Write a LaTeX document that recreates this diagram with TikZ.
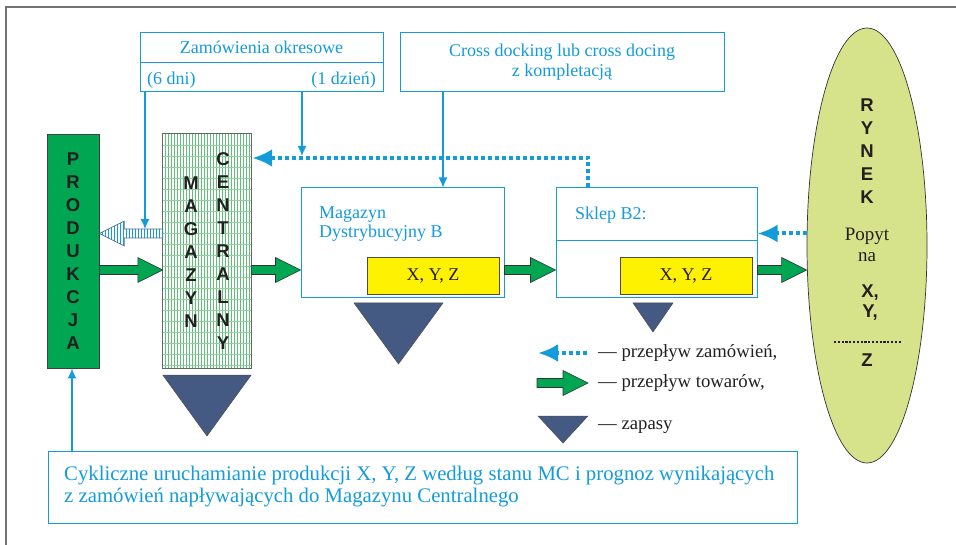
\documentclass[tikz,border=0pt]{standalone}
\usepackage{fontspec}
\setmainfont{Liberation Serif}
\newfontfamily\arialfont{Liberation Sans}
\usetikzlibrary{arrows.meta,shapes.geometric,patterns,calc}

\definecolor{lb}{RGB}{20,155,218}
\definecolor{gr}{RGB}{0,166,81}
\definecolor{tri}{RGB}{69,90,130}
\definecolor{yel}{RGB}{255,242,0}
\definecolor{ell}{RGB}{214,227,138}
\definecolor{stripe}{RGB}{95,190,120}
\definecolor{ink}{RGB}{35,31,32}
\definecolor{hatchborder}{RGB}{85,105,145}

\newcommand\gflow[2]{%
  \draw[gflowstyle] ($(#1)+(0,-4.5)$) -- ($(#2)+(-25,-4.5)$) -- ($(#2)+(-25,-12.5)$) -- (#2)
    -- ($(#2)+(-25,12.5)$) -- ($(#2)+(-25,4.5)$) -- ($(#1)+(0,4.5)$) -- cycle;}

\begin{document}
\begin{tikzpicture}[x=1pt,y=-1pt,
  txt/.style={font=\fontsize{18}{20}\selectfont, text=lb, inner sep=0pt},
  blk/.style={font=\fontsize{18.7}{20}\selectfont, text=ink, inner sep=0pt},
  bbox/.style={draw=lb, line width=1pt, inner sep=0pt},
  conn/.style={draw=lb, line width=1.2pt, -{Latex[length=10pt,width=9pt]}},
  dotarr/.style={draw=lb, line width=4pt, dash pattern=on 4pt off 3pt, -{Latex[length=20pt,width=18pt]}},
  gflowstyle/.style={fill=gr, draw=black!80, line width=0.6pt, line join=miter},
  vlet/.style={font=\arialfont\bfseries\fontsize{18.5}{23}\selectfont, text=ink, align=center, inner sep=0pt},
  stock/.style={fill=tri, draw=black!70, line width=0.5pt},
  yelbox/.style={fill=yel, draw=black!70, line width=0.6pt, inner sep=0pt, font=\fontsize{18}{20}\selectfont, text=ink}
]
\useasboundingbox (0,0) rectangle (956,545);
\draw[black!55, line width=1.5pt] (6,545) -- (6,7) -- (956,7);

% top boxes
\node[bbox, minimum width=243pt, minimum height=59pt] (zam) at (261.5,62.5) {};
\draw[lb, line width=1pt] (zam.west) -- (zam.east);
\node[txt, anchor=base] (zamt) at (261.5,53.5) {Zamówienia okresowe};
\node[txt, anchor=base west] (d6) at (147,85) {(6 dni)};
\node[txt, anchor=base east] (d1) at (376,85) {(1 dzień)};

\node[bbox, txt, draw=lb, line width=1pt, minimum width=324pt, minimum height=59pt, align=center] (cross) at (562,62.5) {Cross docking lub cross docing\\z kompletacją};

% produkcja
\node[fill=gr, draw=black!75, line width=0.8pt, minimum width=52pt, minimum height=234pt, inner sep=0pt] (prod) at (73,251) {};
\node[vlet] (prodt) at (73,251) {P\\R\\O\\D\\U\\K\\C\\J\\A};

% magazyn centralny
\node[preaction={fill=white}, pattern=vertical lines, pattern color=stripe, minimum width=88pt, minimum height=234pt, inner sep=0pt] (mc) at (207,251) {};
\foreach \yy in {145,156,...,365} \draw[stripe!70, line width=0.35pt] (mc.west |- 0,\yy) -- (mc.east |- 0,\yy);
\draw[black!60, line width=0.8pt] (mc.south west) rectangle (mc.north east);
\node[vlet] (mct1) at (191,252.5) {M\\A\\G\\A\\Z\\Y\\N};
\node[vlet] (mct2) at (223,251.5) {C\\E\\N\\T\\R\\A\\L\\N\\Y};
\fill[stock] (mc.south west |- 0,375) -- (mc.south east |- 0,375) -- (207,436) -- cycle;

% magazyn dystrybucyjny B
\node[bbox, minimum width=203pt, minimum height=110pt] (magB) at (402.5,243) {};
\node[txt, anchor=north west, align=left, font=\fontsize{18}{19}\selectfont] (magBt) at (319,207) {Magazyn\\Dystrybucyjny B};
\node[yelbox, minimum width=132pt, minimum height=37pt] (yel1) at (433,275.5) {X, Y, Z};
\fill[stock] (354,303) -- (443,303) -- (398.5,364) -- cycle;

% sklep B2
\node[bbox, minimum width=201pt, minimum height=110pt] (sklep) at (656.5,243) {};
\draw[lb, line width=1pt] (sklep.west |- 0,241) -- (sklep.east |- 0,241);
\node[txt, anchor=base west] (sklept) at (575,220) {Sklep B2:};
\node[yelbox, minimum width=132pt, minimum height=37pt] (yel2) at (686,275.5) {X, Y, Z};
\fill[stock] (633,303) -- (673,303) -- (653,332) -- cycle;

% rynek
\node[ellipse, fill=ell, draw=black!80, line width=0.7pt, minimum width=120pt, minimum height=435pt, inner sep=0pt] (rynek) at (867,245.5) {};
\node[vlet] (rynt) at (867,151.5) {R\\Y\\N\\E\\K};
\node[blk, font=\fontsize{19}{21}\selectfont, align=center] (popyt) at (867,245) {Popyt\\na};
\node[vlet, font=\arialfont\bfseries\fontsize{18.5}{20}\selectfont] (xy) at (870,303) {X,\\Y,};
\draw[ink, line width=2.2pt, dash pattern=on 2.2pt off 1.6pt] (834,342) -- (901,342);
\node[vlet] (zt) at (867,360) {Z};

% bottom box
\node[bbox, minimum width=749pt, minimum height=72pt] (bot) at (422.5,487) {};
\node[txt, anchor=west, align=left, font=\fontsize{20.75}{22}\selectfont] (bott) at (64,487) {Cykliczne uruchamianie produkcji X, Y, Z według stanu MC i prognoz wynikających\\z zamówień napływających do Magazynu Centralnego};

% coordinates
\coordinate (fy) at (0,270);
\coordinate (hy) at (0,233.5);
\coordinate (h6) at (145,229);
\coordinate (dl) at (302,156);
\coordinate (cx) at (443,0);
\coordinate (ux) at (72,0);
\coordinate (oy) at (0,158);

% thin blue connectors
\draw[conn] (zam.south -| h6) -- (h6);
\draw[conn] (zam.south -| dl) -- (dl);
\draw[conn] (cross.south -| cx) -- (magB.north -| cx);
\draw[conn] (bot.north -| ux) -- (prod.south -| ux);

% dotted order flows
\draw[dotarr, shorten >=1pt] (sklep.north -| 588,0) |- (mc.east |- oy);
\draw[dotarr] ($(rynek.west)+(0,-12)$) -- (sklep.east |- 0,233.5);

% hatched arrow (MC -> produkcja)
\coordinate (hs) at (mc.west |- hy);
\coordinate (ht) at (prod.east |- hy);
\draw[pattern=vertical lines, pattern color=lb, draw=hatchborder, line width=0.6pt, preaction={fill=white}]
  ($(hs)+(0,-4.5)$) -- ($(ht)+(25,-4.5)$) -- ($(ht)+(25,-12.5)$) -- (ht) -- ($(ht)+(25,12.5)$) -- ($(ht)+(25,4.5)$) -- ($(hs)+(0,4.5)$) -- cycle;

% green goods flows
\coordinate (g1a) at (prod.east |- fy);
\coordinate (g1b) at (mc.west |- fy);
\coordinate (g2a) at (mc.east |- fy);
\coordinate (g2b) at (magB.west |- fy);
\coordinate (g3a) at (magB.east |- fy);
\coordinate (g3b) at (sklep.west |- fy);
\coordinate (g4a) at (sklep.east |- fy);
\coordinate (g4b) at (rynek.west |- fy);
\gflow{g1a}{g1b}
\gflow{g2a}{g2b}
\gflow{g3a}{g3b}
\gflow{g4a}{g4b}

% legend
\coordinate (l1a) at (587,353);
\coordinate (l1b) at (538,353);
\draw[dotarr] (l1a) -- (l1b);
\node[blk, anchor=west] (l1t) at (598,353) {— przepływ zamówień,};
\coordinate (l2a) at (537,383);
\coordinate (l2b) at (588,383);
\gflow{l2a}{l2b}
\node[blk, anchor=west] (l2t) at (598,383) {— przepływ towarów,};
\fill[stock] (538,416) -- (588,416) -- (563,443) -- cycle;
\node[blk, anchor=west] (l3t) at (598,427) {— zapasy};
\end{tikzpicture}
\end{document}
